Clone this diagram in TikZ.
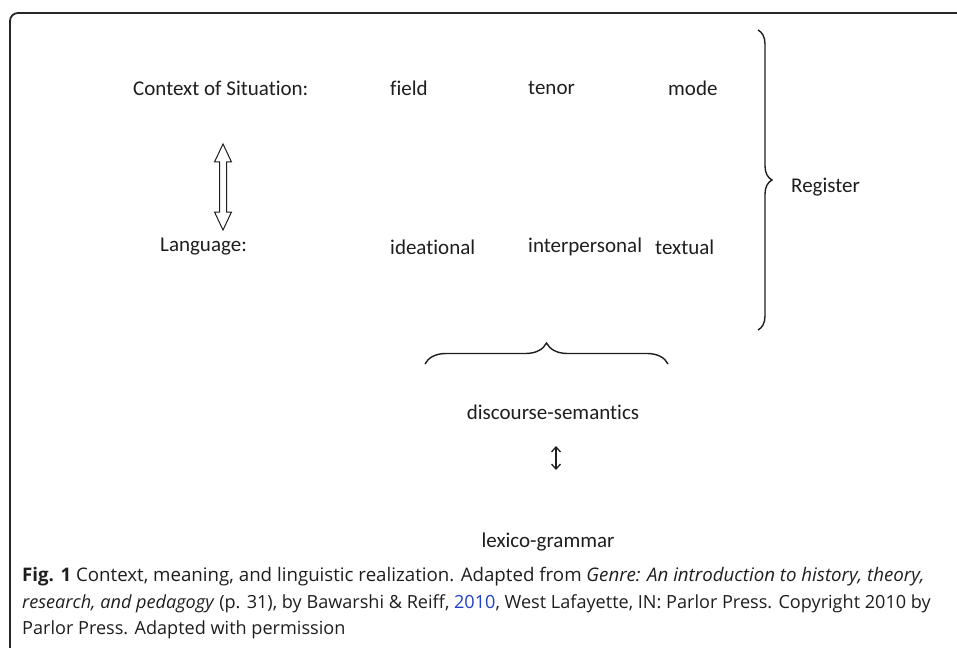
\documentclass[tikz,border=0pt]{standalone}
\usepackage{fontspec}
\setmainfont{Carlito}[Ligatures=NoCommon]
\newfontfamily\capfont{Open Sans}
\usetikzlibrary{decorations.pathreplacing,calc,arrows.meta}
\definecolor{ink}{HTML}{1E1E1E}
\definecolor{linkblue}{HTML}{1F3FCC}
\begin{document}
\begin{tikzpicture}[x=1pt,y=-1pt,
  lbl/.style={text=ink,font=\fontsize{21}{24}\selectfont,inner sep=0pt,anchor=west},
  captxt/.style={text=ink,font=\capfont\fontsize{#1}{22}\selectfont,inner sep=0pt,anchor=west},
  bracestyle/.style={draw=ink,line width=1.4pt,decorate},
  frame/.style={draw=black!85,line width=1.8pt,rounded corners=8pt}]
\useasboundingbox (0,0) rectangle (957,647);
\draw[frame] (10,660) -- (10,13) -- (970,13);
% top row
\node[lbl] (cos) at (133,88) {Context of Situation:};
\node[lbl] (field) at (390,88) {field};
\node[lbl] (tenor) at (528,88) {tenor};
\node[lbl] (mode) at (668,88) {mode};
% bottom row
\node[lbl] (lang) at (160,247) {Language:};
\node[lbl] (idea) at (390,247) {ideational};
\node[lbl] (inter) at (528,247) {interpersonal};
\node[lbl] (text) at (655,247) {textual};
% outlined double arrow
\coordinate (arT) at (223,144);
\coordinate (arB) at (223,230);
\draw[ink,line width=1pt,fill=white]
  (arT) -- ++(8.5,18) -- ++(-5,0) -- ($(arB)+(3.5,-18)$) -- ++(5,0) -- (arB)
  -- ++(-8.5,-18) -- ++(5,0) -- ($(arT)+(-3.5,18)$) -- ++(-5,0) -- cycle;
% right brace
\coordinate (rbT) at (758,30);
\coordinate (rbB) at (758,330);
\draw[bracestyle,decoration={brace,amplitude=14pt}] (rbT) -- (rbB);
\node[lbl] (reg) at (791,187) {Register};
% bottom brace
\coordinate (bbL) at (425,364);
\coordinate (bbR) at (668,364);
\draw[bracestyle,decoration={brace,amplitude=21pt}] (bbL) -- (bbR);
\node[lbl,anchor=center] (ds) at (553,412) {discourse-semantics};
\node[lbl,anchor=center] (lg) at (548,542) {lexico-grammar};
\draw[ink,line width=1.3pt,<->,>={Straight Barb[length=5pt,width=9pt]}] (556,446) -- (556,470);
% caption
\node[captxt=18.7] (c1) at (22,577) {\textbf{Fig. 1} Context, meaning, and linguistic realization. Adapted from \textit{Genre: An introduction to history, theory,}};
\node[captxt=18.1] (c2) at (22,604) {\textit{research, and pedagogy} (p. 31), by Bawarshi \& Reiff, \textcolor{linkblue}{2010}, West Lafayette, IN: Parlor Press. Copyright 2010 by};
\node[captxt=18.1] (c3) at (22,630) {Parlor Press. Adapted with permission};
\end{tikzpicture}
\end{document}
